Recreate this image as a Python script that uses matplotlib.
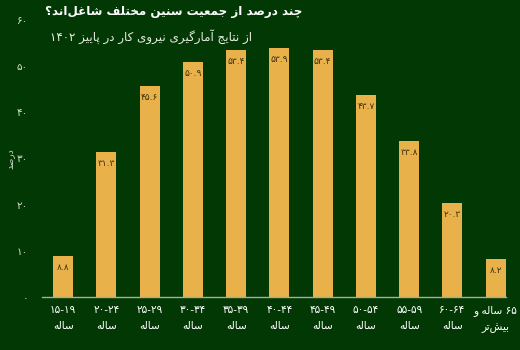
import matplotlib
matplotlib.use("Agg")
import matplotlib.pyplot as plt

# ---------------- data ----------------
categories = ["۱۵-۱۹", "۲۰-۲۴", "۲۵-۲۹", "۳۰-۳۴", "۳۵-۳۹", "۴۰-۴۴",
              "۴۵-۴۹", "۵۰-۵۴", "۵۵-۵۹", "۶۰-۶۴", "۶۵"]
values = [8.8, 31.3, 45.6, 50.9, 53.4, 53.9, 53.4, 43.7, 33.8, 20.3, 8.2]
yticks = [0, 10, 20, 30, 40, 50, 60]
title = "چند درصد از جمعیت سنین مختلف شاغل‌اند؟"
subtitle = "از نتایج آمارگیری نیروی کار در پاییز ۱۴۰۲"
ylabel = "درصد"
age_word = "ساله"
last_line1 = "و ساله ۶۵"      # visual order as in reference
last_line2 = "بیش‌تر"

# ---------------- minimal Arabic/Persian shaping ----------------
FORMS = {
    'ا': (0xFE8D, 0xFE8E, None, None), 'آ': (0xFE81, 0xFE82, None, None),
    'ب': (0xFE8F, 0xFE90, 0xFE91, 0xFE92), 'ت': (0xFE95, 0xFE96, 0xFE97, 0xFE98),
    'ج': (0xFE9D, 0xFE9E, 0xFE9F, 0xFEA0), 'خ': (0xFEA5, 0xFEA6, 0xFEA7, 0xFEA8),
    'د': (0xFEA9, 0xFEAA, None, None), 'ر': (0xFEAD, 0xFEAE, None, None),
    'ز': (0xFEAF, 0xFEB0, None, None), 'س': (0xFEB1, 0xFEB2, 0xFEB3, 0xFEB4),
    'ش': (0xFEB5, 0xFEB6, 0xFEB7, 0xFEB8), 'ص': (0xFEB9, 0xFEBA, 0xFEBB, 0xFEBC),
    'ع': (0xFEC9, 0xFECA, 0xFECB, 0xFECC), 'غ': (0xFECD, 0xFECE, 0xFECF, 0xFED0),
    'ف': (0xFED1, 0xFED2, 0xFED3, 0xFED4), 'ل': (0xFEDD, 0xFEDE, 0xFEDF, 0xFEE0),
    'م': (0xFEE1, 0xFEE2, 0xFEE3, 0xFEE4), 'ن': (0xFEE5, 0xFEE6, 0xFEE7, 0xFEE8),
    'ه': (0xFEE9, 0xFEEA, 0xFEEB, 0xFEEC), 'و': (0xFEED, 0xFEEE, None, None),
    'ی': (0xFBFC, 0xFBFD, 0xFBFE, 0xFBFF), 'ک': (0xFB8E, 0xFB8F, 0xFB90, 0xFB91),
    'گ': (0xFB92, 0xFB93, 0xFB94, 0xFB95), 'پ': (0xFB56, 0xFB57, 0xFB58, 0xFB59),
    'چ': (0xFB7A, 0xFB7B, 0xFB7C, 0xFB7D),
}


def shape(word):
    out = []
    n = len(word)
    for i, c in enumerate(word):
        if c not in FORMS:
            if c != '\u200c':
                out.append(c)
            continue
        iso, fin, ini, med = FORMS[c]
        prev = word[i - 1] if i > 0 else None
        nxt = word[i + 1] if i + 1 < n else None
        jp = prev in FORMS and FORMS[prev][2] is not None
        jn = ini is not None and nxt in FORMS
        if jp and jn:
            g = med
        elif jp:
            g = fin
        elif jn:
            g = ini
        else:
            g = iso
        out.append(chr(g))
    return ''.join(out)


def rtl(text):
    tokens = text.split(' ')
    vis = []
    for t in reversed(tokens):
        if t and t[0] in '۰۱۲۳۴۵۶۷۸۹0123456789':
            vis.append(t)
        else:
            vis.append(shape(t)[::-1])
    return ' '.join(vis)


def rtl_keep(text):
    # text already in visual word order; only shape each word
    return ' '.join(t if t[0] in '۰۱۲۳۴۵۶۷۸۹' else shape(t)[::-1] for t in text.split(' '))


def fa_num(v):
    s = f"{v:g}"
    return s.translate(str.maketrans('0123456789', '۰۱۲۳۴۵۶۷۸۹'))


# ---------------- style ----------------
BG = '#023803'
BAR = '#E9B149'
AXIS = '#9fb39a'
TICK = '#d6dccf'
plt.rcParams['font.family'] = ['DejaVu Sans']

fig = plt.figure(figsize=(5.2, 3.5), dpi=100, facecolor=BG)
ax = fig.add_axes([42 / 520, 1 - 297 / 350, (506 - 42) / 520, (297 - 20) / 350])
ax.set_facecolor(BG)

x = list(range(len(values)))
ax.bar(x, values, width=0.46, color=BAR, zorder=2)
ax.set_xlim(-0.49, 10.24)
ax.set_ylim(0, 60)

for xi, v in zip(x, values):
    ax.annotate(fa_num(v), (xi, v), xytext=(0, -8), textcoords='offset points',
                ha='center', va='center', fontsize=6.5, color='#3b3010')

for s in ['top', 'right', 'left']:
    ax.spines[s].set_visible(False)
ax.spines['bottom'].set_color(AXIS)
ax.spines['bottom'].set_linewidth(1)

ax.set_yticks(yticks)
ax.set_yticklabels([fa_num(t) for t in yticks], fontsize=7.5, color=TICK)
ax.tick_params(axis='y', length=0, pad=10)

xlabels = [c + '\n' + rtl(age_word) for c in categories[:-1]]
xlabels.append(rtl_keep(last_line1) + '\n' + rtl(last_line2))
ax.set_xticks(x)
ax.set_xticklabels(xlabels, fontsize=7.6, color='white', linespacing=1.7)
ax.tick_params(axis='x', length=0, pad=6)

ax.set_ylabel(rtl(ylabel), fontsize=6.5, color=TICK, labelpad=2)

fig.text(45 / 520, 1 - 12 / 350, rtl(title), ha='left', va='center',
         fontsize=8.6, fontweight='bold', color='white')
fig.text(50 / 520, 1 - 37 / 350, rtl(subtitle), ha='left', va='center',
         fontsize=8.6, color='#e8ece0')

fig.savefig('out.png', dpi=100, facecolor=BG)
